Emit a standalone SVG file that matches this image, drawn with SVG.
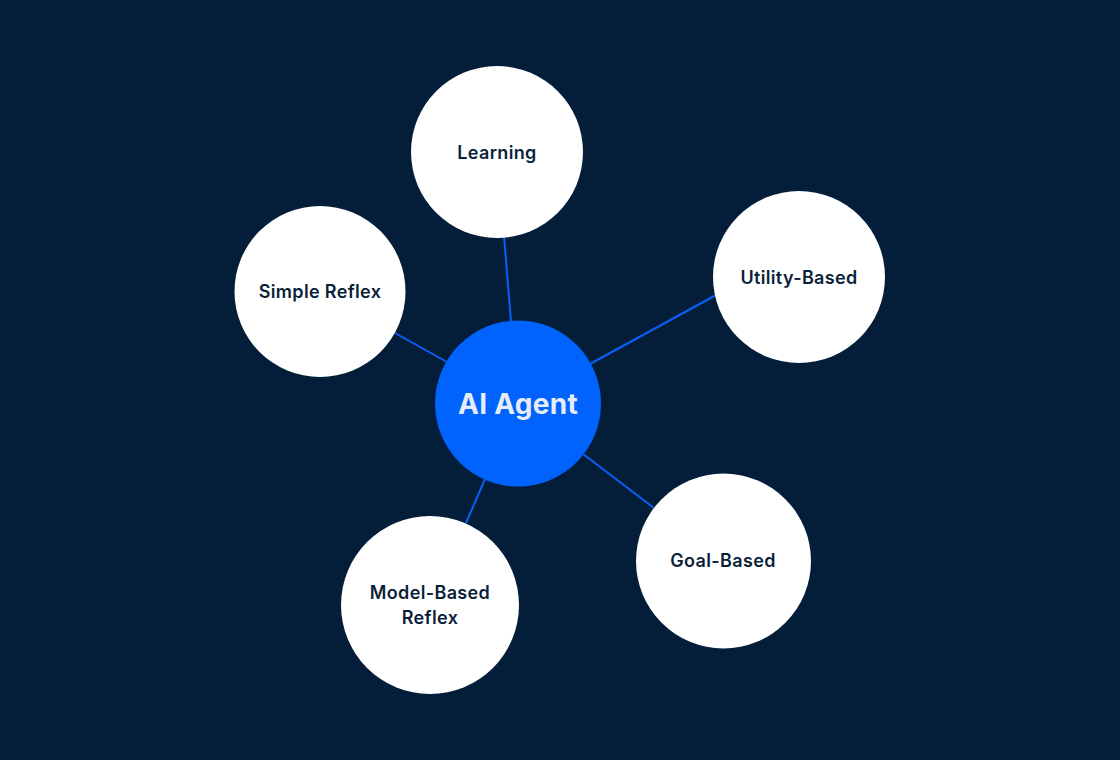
<svg xmlns="http://www.w3.org/2000/svg" width="1120" height="760" viewBox="0 0 1120 760">
<style>
.bg{fill:#041e3a}
.leaf{fill:#ffffff}
.hub{fill:#0063fe}
.lbl{font-family:"Inter","Noto Sans",sans-serif;font-weight:600;font-size:18px;letter-spacing:0.35px;fill:#0b1f3b;text-anchor:middle;dominant-baseline:central}
.hubt{font-family:"Inter","Noto Sans",sans-serif;font-weight:700;font-size:28px;letter-spacing:0.3px;fill:#e6edf7;text-anchor:middle;dominant-baseline:central}
.edge{stroke:#0a5ff5;stroke-width:2;fill:none}
</style>
<rect class="bg" x="0" y="0" width="1120" height="760"/>
<g id="connectors">
<line class="edge" x1="504" y1="236" x2="511" y2="322"/>
<line class="edge" x1="395" y1="333" x2="447" y2="362"/>
<line class="edge" x1="716" y1="295" x2="590" y2="364"/>
<line class="edge" x1="583" y1="454" x2="654" y2="508"/>
<line class="edge" x1="485" y1="479" x2="466" y2="523"/>
</g>
<g id="learning"><circle class="leaf" cx="497" cy="152" r="86"/><text class="lbl" x="497" y="152">Learning</text></g>
<g id="simple-reflex"><circle class="leaf" cx="320" cy="291.5" r="85.5"/><text class="lbl" x="320" y="291">Simple Reflex</text></g>
<g id="utility-based"><circle class="leaf" cx="799" cy="277" r="86"/><text class="lbl" x="799" y="277">Utility-Based</text></g>
<g id="goal-based"><circle class="leaf" cx="723.5" cy="561" r="87.5"/><text class="lbl" x="723" y="560">Goal-Based</text></g>
<g id="model-based-reflex"><circle class="leaf" cx="430" cy="605" r="89"/><text class="lbl" x="430" y="592">Model-Based</text><text class="lbl" x="430" y="617">Reflex</text></g>
<g id="ai-agent"><circle class="hub" cx="518" cy="403.5" r="83"/><text class="hubt" x="518" y="404">AI Agent</text></g>
</svg>
